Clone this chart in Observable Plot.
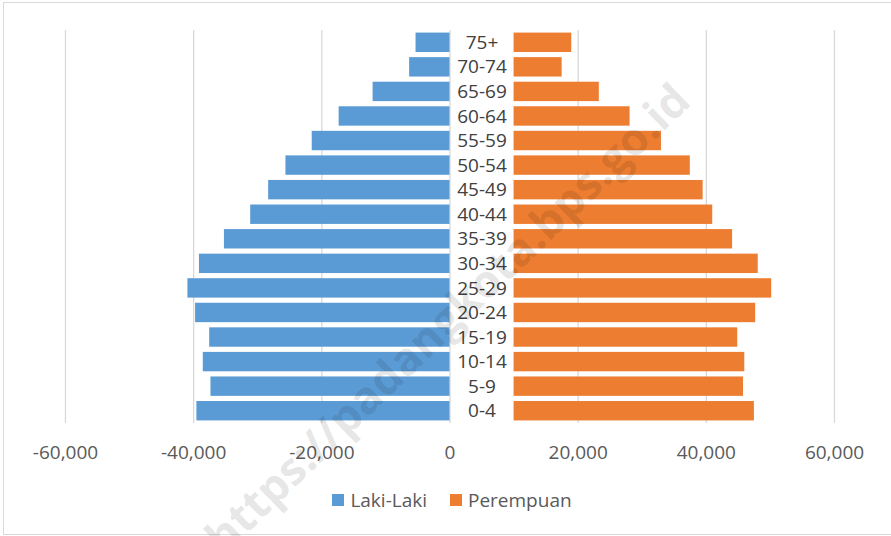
<!DOCTYPE html>
<html>
<head>
<meta charset="utf-8">
<script src="https://cdn.jsdelivr.net/npm/d3@7"></script>
<script src="https://cdn.jsdelivr.net/npm/@observablehq/plot@0.6"></script>
<style>
  html, body { margin: 0; padding: 0; background: #fff; }
  #wrap { position: relative; width: 891px; height: 536px; overflow: hidden; font-family: "Open Sans", sans-serif; }
  #frame { position: absolute; left: 3px; top: 2px; width: 920px; height: 533px; border: 1.5px solid #d9d9d9; box-sizing: border-box; }
  #chart { position: absolute; left: 0; top: 0; }
  #legend { position: absolute; left: 0; top: 490px; width: 891px; height: 20px; display: flex; justify-content: center; align-items: center; padding-left: 13px; box-sizing: border-box; font-size: 19px; color: #595959; }
  .item { display: flex; align-items: center; }
  .sw { width: 12px; height: 12px; margin-right: 6px; }
  #wm { position: absolute; left: 0; top: 0; pointer-events: none; }
</style>
</head>
<body>
<div id="wrap">
  <div id="frame"></div>
  <div id="chart"></div>
  <div id="legend"></div>
  <svg id="wm" width="891" height="536"></svg>
</div>
<script>
// Age groups (bottom to top)
const ages = ["0-4","5-9","10-14","15-19","20-24","25-29","30-34","35-39","40-44","45-49","50-54","55-59","60-64","65-69","70-74","75+"];
// Laki-Laki (male) population
const male = [39500, 37300, 38500, 37500, 39700, 40900, 39100, 35200, 31100, 28300, 25600, 21500, 17300, 12000, 6300, 5300];
// Perempuan (female) population
const female = [37500, 35800, 36000, 34900, 37700, 40200, 38100, 34100, 31000, 29500, 27500, 23000, 18100, 13300, 7500, 9000];
// Axis ticks
const xTicks = [-60000, -40000, -20000, 0, 20000, 40000, 60000];
const seriesNames = ["Laki-Laki", "Perempuan"];
const colors = ["#5b9bd5", "#ed7d31"];
const labelGap = 10000; // space for the age labels between the two sides

const maleData = ages.map((a, i) => ({age: a, v: male[i]}));
const femaleData = ages.map((a, i) => ({age: a, v: female[i]}));

const chart = Plot.plot({
  width: 891,
  height: 480,
  marginTop: 30,
  marginBottom: 57,
  marginLeft: 65,
  marginRight: 57,
  style: {fontFamily: "'Open Sans', sans-serif", background: "transparent"},
  x: {domain: [-60000, 60000]},
  y: {domain: ages.slice().reverse(), paddingInner: 0.21, paddingOuter: 0.105, round: false, axis: null},
  marks: [
    Plot.gridX(xTicks, {stroke: "#d9d9d9", strokeOpacity: 1, strokeWidth: 1.3}),
    Plot.axisX({ticks: xTicks, tickSize: 0, tickPadding: 22, fontSize: 19, fill: "#595959",
      tickFormat: d => d.toLocaleString("en-US")}),
    Plot.barX(maleData, {y: "age", x1: 0, x2: d => -d.v, fill: colors[0], insetTop: 0, insetBottom: 0}),
    Plot.barX(femaleData, {y: "age", x1: labelGap, x2: d => labelGap + d.v, fill: colors[1], insetTop: 0, insetBottom: 0}),
    Plot.text(ages, {y: d => d, x: labelGap / 2, text: d => d, fontSize: 19, fill: "#404040", textAnchor: "middle"})
  ]
});
document.getElementById("chart").appendChild(chart);

const legend = document.getElementById("legend");
seriesNames.forEach((n, i) => {
  const it = document.createElement("div");
  it.className = "item";
  if (i > 0) it.style.marginLeft = "23px";
  const sw = document.createElement("div");
  sw.className = "sw";
  sw.style.background = colors[i];
  const t = document.createElement("span");
  t.textContent = n;
  it.appendChild(sw); it.appendChild(t);
  legend.appendChild(it);
});

// watermark
const wm = d3.select("#wm");
wm.append("text")
  .attr("transform", "translate(450,321) rotate(-44)")
  .attr("text-anchor", "middle")
  .attr("dominant-baseline", "middle")
  .attr("font-family", "'Open Sans', sans-serif")
  .attr("font-weight", "bold")
  .attr("font-size", 45)
  .attr("fill", "#000")
  .attr("fill-opacity", 0.11)
  .text("https://padangkota.bps.go.id");
</script>
</body>
</html>
